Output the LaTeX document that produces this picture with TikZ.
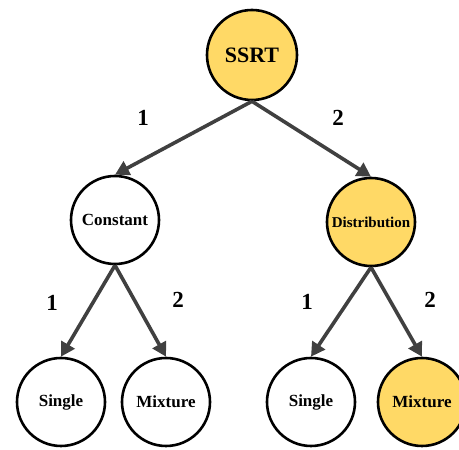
\documentclass[tikz,border=0pt]{standalone}
\usepackage{fontspec}
\setmainfont{Liberation Serif}
\usetikzlibrary{arrows.meta}
\definecolor{gold}{HTML}{FFD966}
\definecolor{edgegray}{HTML}{404040}
\begin{document}
\begin{tikzpicture}[x=1pt,y=1pt,
  state/.style={circle,draw=black,line width=2.6pt,fill=white,minimum size=88pt,inner sep=0pt,font=\bfseries\fontsize{17}{17}\selectfont},
  chosen/.style={state,fill=gold},
  branch/.style={draw=edgegray,line width=3.6pt,-{Triangle[length=14pt,width=15pt]}},
  choice/.style={font=\bfseries\fontsize{23}{23}\selectfont}]
\useasboundingbox (0,0) rectangle (459,450);
% root
\node[chosen,minimum size=90pt,font=\bfseries\fontsize{22}{22}\selectfont] (root) at (252,395) {SSRT};
% second level
\node[state] (const) at (115,230) {Constant};
\node[chosen,font=\bfseries\fontsize{15}{15}\selectfont] (dist) at (371,228) {Distribution};
% leaves
\node[state] (cs) at (61,48) {Single};
\node[state] (cm) at (166,48) {Mixture};
\node[state] (ds) at (311,48) {Single};
\node[chosen] (dm) at (422,48) {Mixture};
% branches
\draw[branch] (root.south) -- (const.north);
\draw[branch] (root.south) -- (dist.north);
\draw[branch] (const.south) -- (cs.north);
\draw[branch] (const.south) -- (cm.north);
\draw[branch] (dist.south) -- (ds.north);
\draw[branch] (dist.south) -- (dm.north);
% branch numbers
\node[choice] (l1) at (143,332) {1};
\node[choice] (l2) at (338,332) {2};
\node[choice] (l3) at (52,147) {1};
\node[choice] (l4) at (178,150) {2};
\node[choice] (l5) at (307,148) {1};
\node[choice] (l6) at (430,150) {2};
\end{tikzpicture}
\end{document}
